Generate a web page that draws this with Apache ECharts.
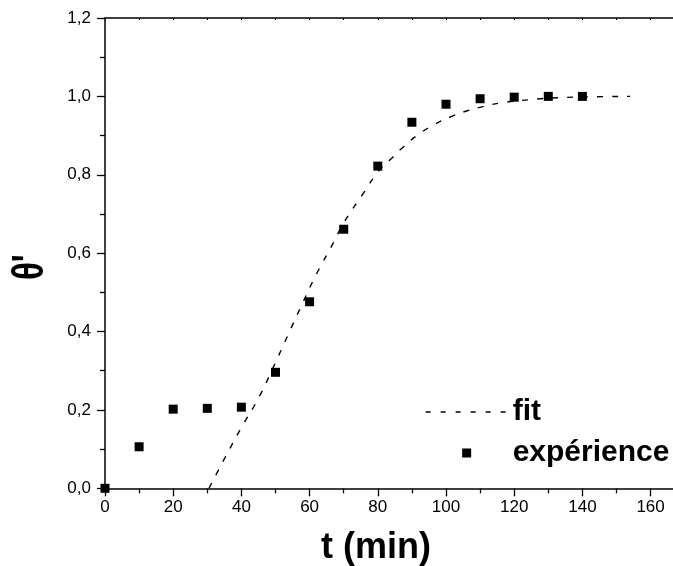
<!DOCTYPE html>
<html>
<head>
<meta charset="utf-8">
<script src="https://cdn.jsdelivr.net/npm/echarts@6/dist/echarts.min.js"></script>
<style>
html,body{margin:0;padding:0;background:#fff;}
#chart{width:673px;height:566px;}
</style>
</head>
<body>
<div id="chart"></div>
<script>
// Experimental points
var expT = [0, 10, 20, 30, 40, 50, 60, 70, 80, 90, 100, 110, 120, 130, 140];
var expY = [0, 0.106, 0.202, 0.204, 0.207, 0.296, 0.476, 0.661, 0.822, 0.934, 0.980, 0.994, 0.998, 1.0, 1.0];
// Fit curve
var fitT = [30.5, 35, 40, 45, 49.2, 53.5, 57.7, 62.1, 67.4, 69.9, 75.8, 80.1, 83.6, 87.5, 92.4, 96.8, 101.7, 106.5, 110.9, 115.8, 125.1, 134.4, 143.7, 154];
var fitY = [0, 0.075, 0.155, 0.23, 0.306, 0.388, 0.468, 0.548, 0.633, 0.676, 0.753, 0.808, 0.838, 0.871, 0.906, 0.929, 0.949, 0.964, 0.974, 0.983, 0.992, 0.997, 0.999, 1.0];
var xTitle = 't (min)';
var yTitle = "θ'";

function pairs(a, b) { return a.map(function (v, i) { return [v, b[i]]; }); }

var FONT = 'Liberation Sans, Arial, sans-serif';
var chart = echarts.init(document.getElementById('chart'), null, {renderer: 'canvas'});
chart.setOption({
  animation: false,
  backgroundColor: '#fff',
  grid: {left: 105, top: 18, bottom: 77.7, right: -11.7, containLabel: false, outerBoundsMode: 'none'},
  xAxis: [{
    type: 'value', min: 0, max: 170, interval: 20, position: 'bottom',
    axisLine: {show: true, onZero: false, lineStyle: {color: '#000', width: 1.5}},
    axisTick: {show: true, inside: false, length: 8, lineStyle: {color: '#000', width: 1.3}},
    minorTick: {show: true, splitNumber: 2, length: 5, lineStyle: {color: '#000', width: 1.3}},
    axisLabel: {color: '#000', fontFamily: FONT, fontSize: 17, margin: 11,
      formatter: function (v) { return v > 160 ? '' : String(v); }},
    splitLine: {show: false}
  }, {
    type: 'value', min: 0, max: 170, interval: 20, position: 'top',
    axisLine: {show: true, onZero: false, lineStyle: {color: '#000', width: 1.5}},
    axisTick: {show: true, inside: true, length: 2, lineStyle: {color: '#000', width: 1}},
    minorTick: {show: true, splitNumber: 2, length: 2, lineStyle: {color: '#000', width: 1}},
    axisLabel: {show: false},
    splitLine: {show: false}
  }],
  yAxis: [{
    type: 'value', min: 0, max: 1.2, interval: 0.2, position: 'left',
    axisLine: {show: true, onZero: false, lineStyle: {color: '#000', width: 1.5}},
    axisTick: {show: true, inside: false, length: 8, lineStyle: {color: '#000', width: 1.3}},
    minorTick: {show: true, splitNumber: 2, length: 5, lineStyle: {color: '#000', width: 1.3}},
    axisLabel: {color: '#000', fontFamily: FONT, fontSize: 17, margin: 14,
      formatter: function (v) { return v.toFixed(1).replace('.', ','); }},
    splitLine: {show: false}
  }],
  legend: {
    orient: 'vertical', left: 425, top: 397, itemWidth: 82, itemHeight: 9, itemGap: 11,
    padding: 0,
    textStyle: {fontFamily: FONT, fontWeight: 'bold', fontSize: 30, color: '#000'},
    data: [
      {name: 'fit', itemStyle: {opacity: 0}, lineStyle: {width: 1.3, type: [5, 10], color: '#000'}},
      {name: 'expérience', icon: 'path://M0,0L1,0L1,1L0,1Z', itemStyle: {color: '#000', opacity: 1}}
    ]
  },
  graphic: [
    {type: 'text', left: 321, top: 530, style: {text: xTitle, font: 'bold 36px ' + FONT, fill: '#000'}},
    {type: 'text', rotation: Math.PI / 2, scaleX: 0.75, x: 9, y: 280,
     style: {text: yTitle, font: 'bold 44px ' + FONT, fill: '#000'}}
  ],
  series: [{
    name: 'fit', type: 'line', data: pairs(fitT, fitY), smooth: true, symbol: 'none',
    lineStyle: {color: '#000', width: 1.4, type: [6, 9]}, itemStyle: {color: '#000'}, z: 2
  }, {
    name: 'expérience', type: 'scatter', data: pairs(expT, expY), symbol: 'rect', symbolSize: 9,
    itemStyle: {color: '#000', opacity: 1}, z: 3
  }]
});
</script>
</body>
</html>
